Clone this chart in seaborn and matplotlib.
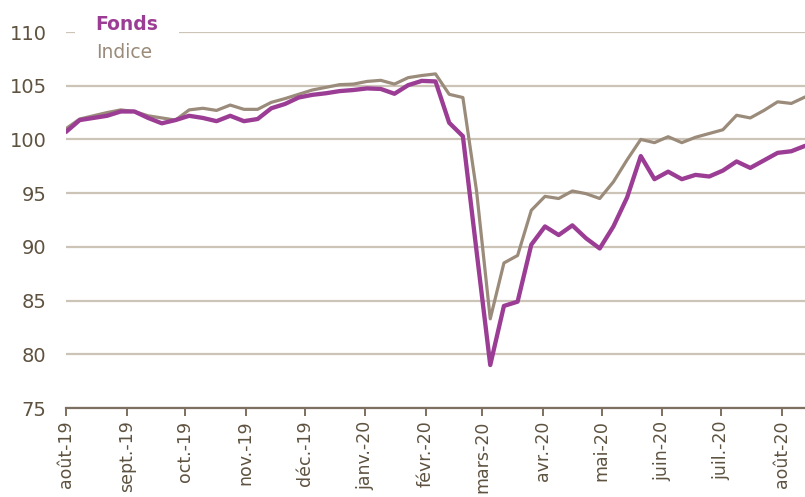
import numpy as np
import pandas as pd
import matplotlib
matplotlib.use("Agg")
import matplotlib.pyplot as plt
import seaborn as sns
from matplotlib.lines import Line2D

# weekly dates
dates = pd.date_range("2019-08-01", periods=55, freq="7D")

fonds = [100.7, 101.8, 102.0, 102.2, 102.6, 102.6, 102.0, 101.5, 101.8, 102.2,
         102.0, 101.7, 102.2, 101.7, 101.9, 102.9, 103.3, 103.9, 104.15, 104.3,
         104.5, 104.6, 104.75, 104.7, 104.25, 105.05, 105.45, 105.4, 101.55, 100.3,
         89.6, 79.0, 84.5, 84.9, 90.2, 91.9, 91.1, 92.0, 90.8, 89.85,
         91.9, 94.6, 98.45, 96.3, 97.0, 96.3, 96.7, 96.55, 97.1, 97.95,
         97.35, 98.05, 98.75, 98.9, 99.4]

indice = [101.0, 101.9, 102.2, 102.5, 102.75, 102.6, 102.2, 102.0, 101.8, 102.75,
          102.9, 102.7, 103.2, 102.8, 102.8, 103.45, 103.8, 104.2, 104.6, 104.85,
          105.1, 105.15, 105.4, 105.5, 105.15, 105.75, 105.95, 106.1, 104.2, 103.9,
          95.2, 83.3, 88.5, 89.2, 93.4, 94.7, 94.5, 95.2, 94.95, 94.5,
          96.05, 98.1, 100.0, 99.7, 100.25, 99.7, 100.2, 100.55, 100.9, 102.25,
          102.0, 102.7, 103.5, 103.35, 103.95]

month_ticks = pd.date_range("2019-08-01", "2020-08-01", freq="MS")
month_labels = ["août-19", "sept.-19", "oct.-19", "nov.-19", "déc.-19", "janv.-20",
                "févr.-20", "mars-20", "avr.-20", "mai-20", "juin-20", "juil.-20", "août-20"]
y_ticks = [75, 80, 85, 90, 95, 100, 105, 110]

purple = "#9b3d94"
taupe = "#9a8b7a"
grid_c = "#cdc4b8"
axis_c = "#7d7060"
text_c = "#5e5240"

sns.set_theme(style="white")
plt.rcParams['font.family'] = ['DejaVu Sans']

df = pd.DataFrame({"date": list(dates) * 2,
                   "value": fonds + indice,
                   "serie": ["Fonds"] * len(fonds) + ["Indice"] * len(indice)})

fig = plt.figure(figsize=(8.05, 4.97), dpi=100)
ax = fig.add_axes([66 / 805, 1 - 408 / 497, 1 - 66 / 805, (408 - 32) / 497])

sns.lineplot(data=df[df.serie == "Indice"], x="date", y="value", color=taupe,
             linewidth=2.3, ax=ax, legend=False, zorder=3)
sns.lineplot(data=df[df.serie == "Fonds"], x="date", y="value", color=purple,
             linewidth=3.1, ax=ax, legend=False, zorder=4)

ax.set_xlim(dates[0], dates[-1])
ax.set_ylim(75, 110)
ax.set_yticks(y_ticks)
ax.set_yticklabels([str(v) for v in y_ticks])
ax.set_xticks(month_ticks)
ax.set_xticklabels(month_labels, rotation=90, va="top", ha="center")
ax.set_xlabel("")
ax.set_ylabel("")

ax.grid(axis="y", color=grid_c, linewidth=1.6, zorder=0)
ax.grid(axis="x", visible=False)
for s in ["top", "right", "left"]:
    ax.spines[s].set_visible(False)
ax.spines["bottom"].set_color(axis_c)
ax.spines["bottom"].set_linewidth(1.6)
ax.spines["bottom"].set_zorder(5)

ax.tick_params(axis="y", length=0, labelsize=14, labelcolor=text_c, pad=14)
ax.tick_params(axis="x", bottom=True, length=6, width=1.4, color=axis_c,
               direction="out", labelsize=12.5, labelcolor=text_c, pad=3)

handles = [Line2D([], [], color=purple, linewidth=0),
           Line2D([], [], color=taupe, linewidth=0)]
leg = ax.legend(handles, ["Fonds", "Indice"], loc="upper left",
                bbox_to_anchor=(75 / 805, 1 + 6 / 497), bbox_transform=fig.transFigure,
                frameon=True, facecolor="white", edgecolor="none", framealpha=1,
                handlelength=0, handletextpad=0, borderpad=1.1, labelspacing=0.5,
                fontsize=13.5, borderaxespad=0)
texts = leg.get_texts()
texts[0].set_color(purple)
texts[0].set_fontweight("bold")
texts[1].set_color(taupe)
leg.set_zorder(10)
leg.get_frame().set_boxstyle("square", pad=0.0)

fig.savefig("out.png", dpi=100)
